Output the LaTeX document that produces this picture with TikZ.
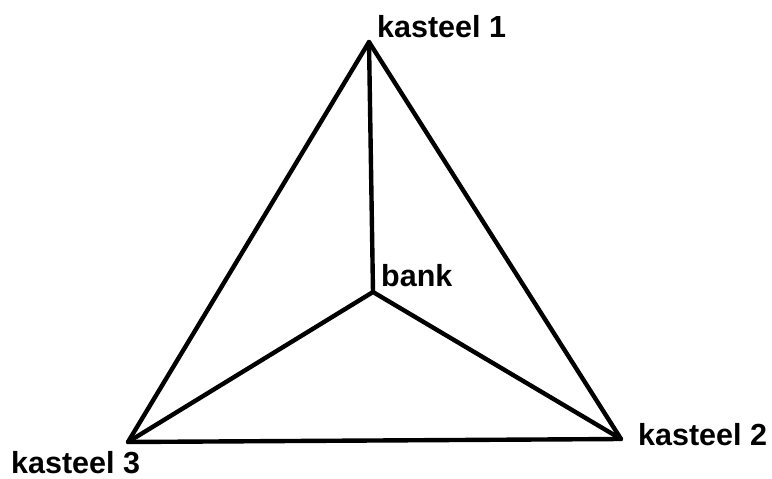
\documentclass[tikz,border=0pt]{standalone}
\usepackage{fontspec}
\setmainfont{Liberation Sans}
\begin{document}
\begin{tikzpicture}[x=1pt,y=1pt,
  edge/.style={line width=4.4pt, line cap=round, line join=round},
  lbl/.style={anchor=base west, inner sep=0pt, font=\fontsize{30.5}{30.5}\selectfont\bfseries}]
\useasboundingbox (0,0) rectangle (772,-479);
\coordinate (k1) at (369,-42);
\coordinate (k2) at (621,-439);
\coordinate (k3) at (128,-442);
\coordinate (b) at (373,-292);
\draw[edge] (k1) -- (k2) -- (k3) -- cycle;
\draw[edge] (k1) -- (b);
\draw[edge] (k2) -- (b) -- (k3);
\node[lbl] (t1) at (377,-37) {kasteel 1};
\node[lbl] (tb) at (381,-286) {bank};
\node[lbl] (t2) at (638,-445) {kasteel 2};
\node[lbl] (t3) at (11,-473) {kasteel 3};
\end{tikzpicture}
\end{document}
